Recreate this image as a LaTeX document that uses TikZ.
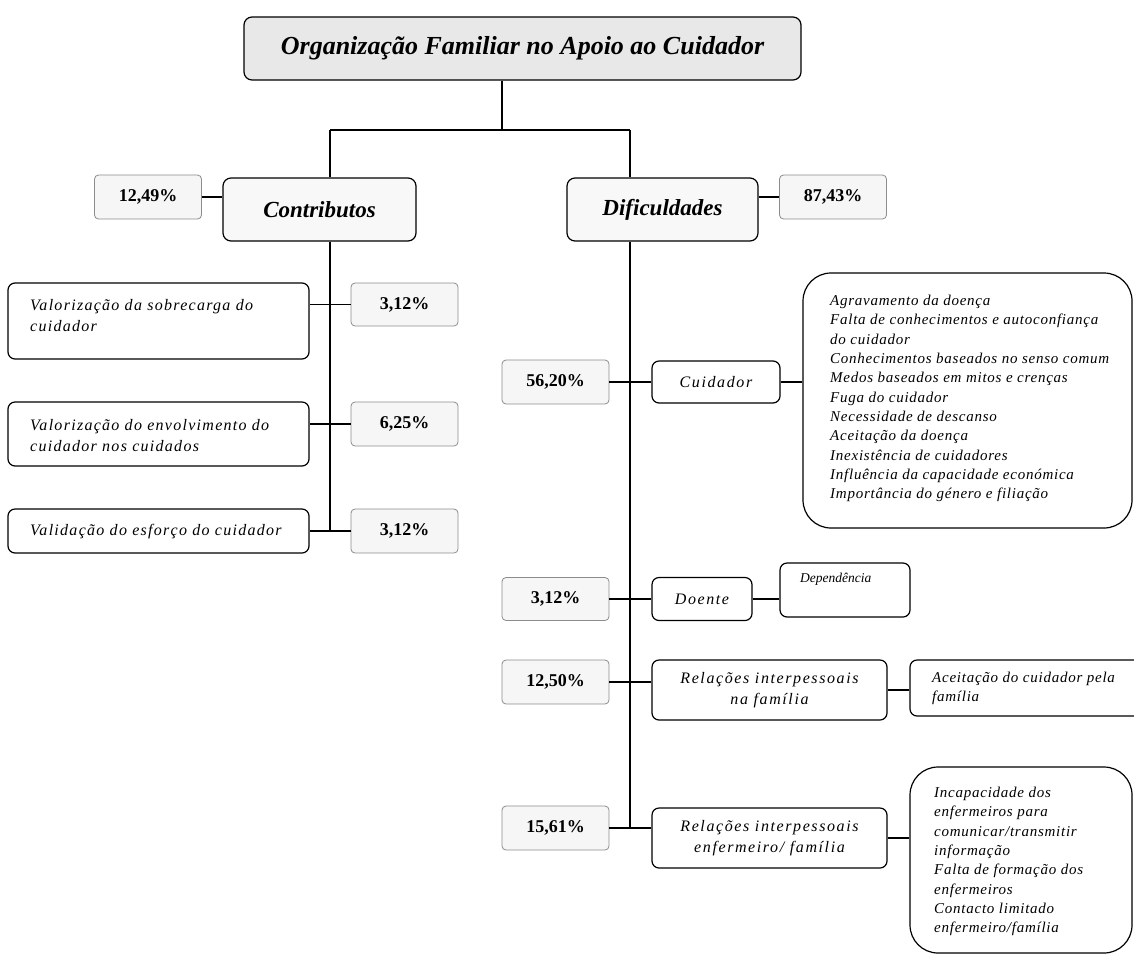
\documentclass[tikz,border=0pt]{standalone}
\usepackage{fontspec}
\setmainfont{Liberation Serif}
\newfontfamily\spaced[LetterSpace=10]{Liberation Serif}
\newfontfamily\spacedlist[LetterSpace=5]{Liberation Serif}
\newfontfamily\spacedleft[LetterSpace=8]{Liberation Serif}
\usetikzlibrary{calc}
\definecolor{titlefill}{RGB}{232,232,232}
\definecolor{softfill}{RGB}{248,248,248}
\definecolor{pctfill}{RGB}{246,246,246}
\definecolor{pctdraw}{RGB}{140,140,140}
\begin{document}
\begin{tikzpicture}[x=1pt,y=-1pt,
  conn/.style={draw=black, line width=1.2pt},
  titlebox/.style={draw=black, line width=1.2pt, rounded corners=8pt, fill=titlefill, inner sep=0pt, font=\fontsize{26}{30}\selectfont\bfseries\itshape},
  catbox/.style={draw=black, line width=1.2pt, rounded corners=8pt, fill=softfill, inner sep=0pt, font=\fontsize{23}{27}\selectfont\bfseries\itshape},
  pctbox/.style={draw=pctdraw, line width=0.8pt, rounded corners=4pt, fill=pctfill, inner sep=0pt, minimum width=107pt, font=\fontsize{18}{21}\selectfont\bfseries},
  itembox/.style={draw=black, line width=1.2pt, rounded corners=7pt, fill=white, inner sep=0pt, align=center, font=\spaced\fontsize{16}{21}\selectfont\itshape},
  listbox/.style={draw=black, line width=1.2pt, rounded corners=28pt, fill=white, inner sep=0pt},
  listtext/.style={inner sep=0pt, anchor=north west, align=left, font=\spacedlist\fontsize{15}{19.3}\selectfont\itshape},
  lefttext/.style={inner sep=0pt, anchor=west, align=left, font=\spacedleft\fontsize{16}{21}\selectfont\itshape},
]
\useasboundingbox (0,0) rectangle (1134,954);

% top level
\node[titlebox, minimum width=557pt, minimum height=63pt] (title) at (522.5,48.5) {Organização Familiar no Apoio ao Cuidador};
\node[catbox, minimum width=193pt, minimum height=63pt] (contrib) at (319.5,209.5) {Contributos};
\node[catbox, minimum width=191pt, minimum height=63pt] (dific) at (662.5,209.5) {Dificuldades};
\node[pctbox, minimum height=44pt] (p1249) at (148,197) {12,49\%};
\node[pctbox, minimum height=44pt] (p8743) at (833,197) {87,43\%};

% left column
\node[itembox, minimum width=301pt, minimum height=76pt] (v1) at (158.5,321) {};
\node[lefttext, anchor=north west] (v1t) at (30,299) {Valorização da sobrecarga do\\cuidador};
\node[itembox, minimum width=301pt, minimum height=64pt] (v2) at (158.5,434) {};
\node[lefttext] (v2t) at (30,436) {Valorização do envolvimento do\\cuidador nos cuidados};
\node[itembox, minimum width=301pt, minimum height=44pt] (v3) at (158.5,531) {};
\node[lefttext] (v3t) at (30,532) {Validação do esforço do cuidador};
\node[pctbox, minimum height=43pt] (p312a) at (404.5,304.5) {3,12\%};
\node[pctbox, minimum height=44pt] (p625) at (404.5,424) {6,25\%};
\node[pctbox, minimum height=44pt] (p312b) at (404.5,531) {3,12\%};

% right column
\node[pctbox, minimum height=44pt] (p5620) at (555.5,382) {56,20\%};
\node[itembox, minimum width=128pt, minimum height=42pt] (cuid) at (716,382) {Cuidador};
\node[listbox, minimum width=329pt, minimum height=255pt] (cuidlist) at (967.5,400.5) {};
\node[listtext] (cuidlistt) at (830,295) {Agravamento da doença\\Falta de conhecimentos e autoconfiança\\do cuidador\\Conhecimentos baseados no senso comum\\Medos baseados em mitos e crenças\\Fuga do cuidador\\Necessidade de descanso\\Aceitação da doença\\Inexistência de cuidadores\\Influência da capacidade económica\\Importância do género e filiação};

\node[pctbox, minimum height=43pt] (p312c) at (555.5,599) {3,12\%};
\node[itembox, minimum width=100pt, minimum height=43pt] (doente) at (702,599) {Doente};
\node[itembox, minimum width=130pt, minimum height=54pt] (dep) at (845,590) {};
\node[listtext, font=\fontsize{13.5}{16}\selectfont\itshape] (dept) at (800,573) {Dependência};

\node[pctbox, minimum height=44pt] (p1250) at (555.5,682) {12,50\%};
\node[itembox, minimum width=235pt, minimum height=60pt] (rel1) at (769.5,690) {Relações interpessoais\\na família};
\node[itembox, minimum width=240pt, minimum height=56pt] (acei) at (1030,688) {};
\node[listtext] (aceit) at (932,672) {Aceitação do cuidador pela\\família};

\node[pctbox, minimum height=44pt] (p1561) at (555.5,828) {15,61\%};
\node[itembox, minimum width=235pt, minimum height=60pt] (rel2) at (769.5,838) {Relações interpessoais\\enfermeiro/ família};
\node[listbox, minimum width=222pt, minimum height=186pt] (enflist) at (1021,860) {};
\node[listtext] (enflistt) at (934,787) {Incapacidade dos\\enfermeiros para\\comunicar/transmitir\\informação\\Falta de formação dos\\enfermeiros\\Contacto limitado\\enfermeiro/família};

% connectors
\coordinate (hub) at (502,130);
\coordinate (lj) at (330,130);
\coordinate (rj) at (630,130);
\draw[conn] (title.south -| hub) -- (hub);
\draw[conn] (lj) -- (rj);
\draw[conn] (lj) -- (lj |- contrib.north);
\draw[conn] (rj) -- (rj |- dific.north);
\draw[conn] (p1249.east) -- (p1249.east -| contrib.west);
\draw[conn] (p8743.west) -- (p8743.west -| dific.east);

\draw[conn] (lj |- contrib.south) -- (lj |- p312b.west);
\draw[conn] (p312a.west) -- (p312a.west -| v1.east);
\draw[conn] (p625.west) -- (p625.west -| v2.east);
\draw[conn] (p312b.west) -- (v3.east);

\draw[conn] (rj |- dific.south) -- (rj |- p1561.east);
\draw[conn] (p5620.east) -- (cuid.west);
\draw[conn] (cuid.east) -- (cuid.east -| cuidlist.west);
\draw[conn] (p312c.east) -- (doente.west);
\draw[conn] (doente.east) -- (doente.east -| dep.west);
\draw[conn] (p1250.east) -- (p1250.east -| rel1.west);
\draw[conn] (rel1.east) -- (rel1.east -| acei.west);
\draw[conn] (p1561.east) -- (p1561.east -| rel2.west);
\draw[conn] (rel2.east) -- (rel2.east -| enflist.west);
\end{tikzpicture}
\end{document}
